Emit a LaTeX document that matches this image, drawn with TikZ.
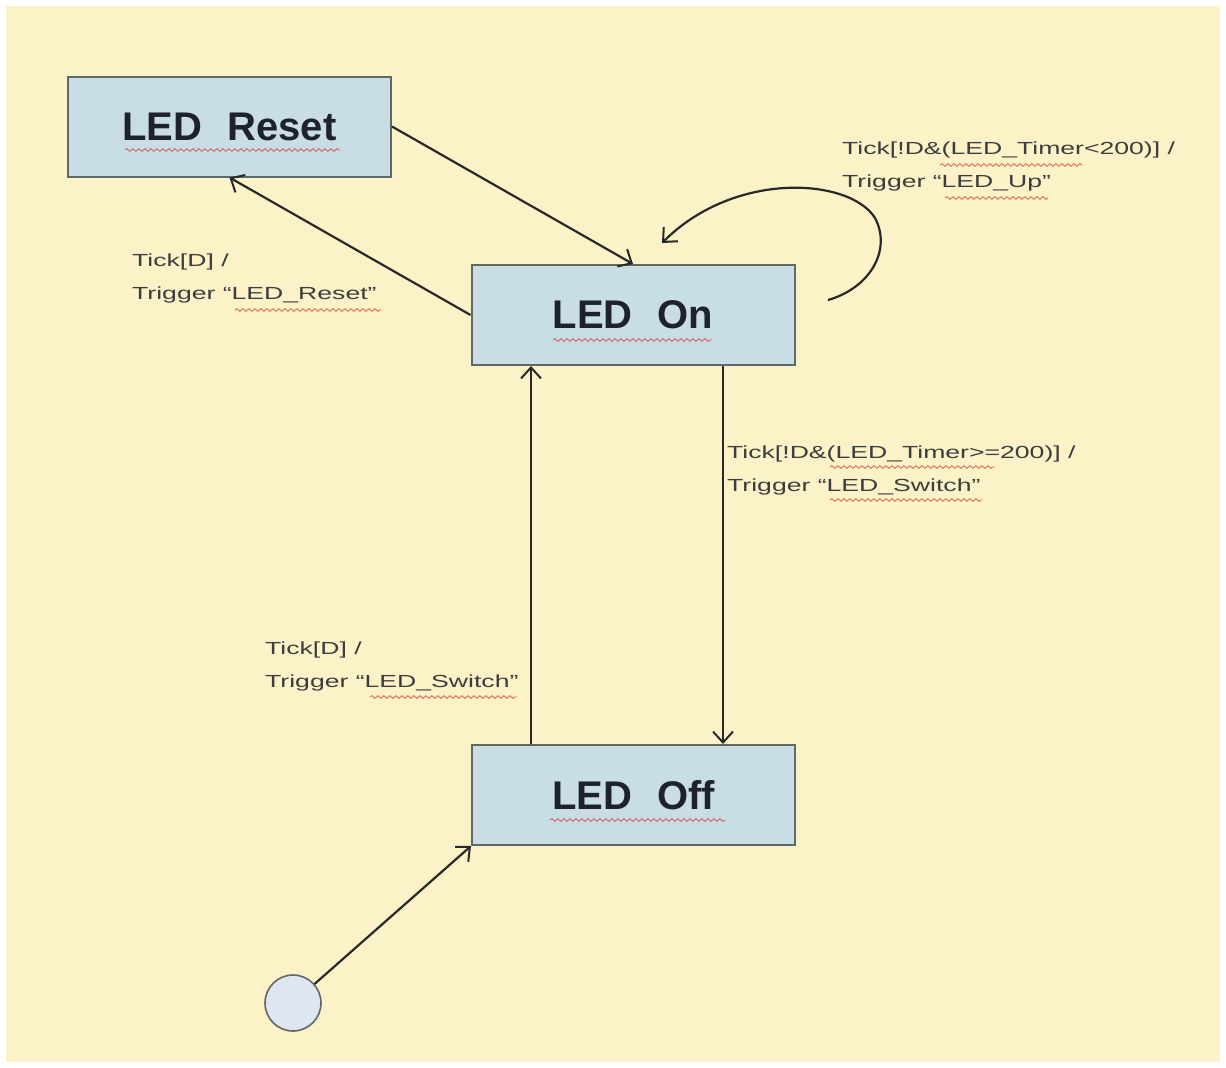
\documentclass[tikz,border=0pt]{standalone}
\usepackage{fontspec}
\setmainfont{Liberation Sans}
\newfontfamily\lblfont[FakeStretch=1.52]{Liberation Sans}
\usetikzlibrary{arrows.meta,decorations.pathmorphing}
\definecolor{bgyellow}{RGB}{251,242,200}
\definecolor{boxfill}{RGB}{201,221,229}
\definecolor{boxline}{RGB}{92,106,106}
\definecolor{ink}{RGB}{40,40,40}
\definecolor{txt}{RGB}{30,34,44}
\definecolor{initfill}{RGB}{222,230,242}
\definecolor{squigred}{RGB}{215,60,60}
\tikzset{
  statebox/.style={draw=boxline, line width=2pt, fill=boxfill, rectangle,
    minimum width=323pt, minimum height=100pt, inner sep=0pt,
    text=txt, font=\bfseries\fontsize{40}{48}\selectfont},
  initstate/.style={circle, draw=gray!80!black, line width=1.6pt, fill=initfill,
    minimum size=56pt, inner sep=0pt},
  conn/.style={draw=ink, line width=2.2pt, -{Straight Barb[length=11pt,width=20pt,line width=2pt]}},
  trlabel/.style={anchor=base west, inner sep=0pt, align=left, text=ink!90,
    font=\lblfont\fontsize{17.5}{33}\selectfont},
  squig/.style={decorate, decoration={snake, amplitude=1.4pt, segment length=6pt},
    draw=squigred, line width=0.9pt, opacity=0.75}
}
\begin{document}
\begin{tikzpicture}[x=1pt,y=-1pt]
\useasboundingbox (0,0) rectangle (1226,1068);
\fill[white] (0,0) rectangle (1226,1068);
\fill[bgyellow] (6,6) rectangle (1220,1062);

% states
\node[statebox] (reset) at (229.5,126.5) {LED\hspace{25pt}Reset};
\node[statebox] (on)    at (633,315)     {LED\hspace{25pt}On};
\node[statebox] (off)   at (633.5,795)   {LED\hspace{25pt}Off};
\node[initstate] (init) at (293,1003) {};

% helper coordinates
\coordinate (xa) at (723,0);
\coordinate (xb) at (531,0);
\coordinate (ls) at (828,300);
\coordinate (le) at (662,243);

% connectors
\draw[conn] (reset.east) -- (on.north);
\draw[conn] (on.west) -- (reset.south);
\draw[conn] (on.south -| xa) -- (off.north -| xa);
\draw[conn] (off.north -| xb) -- (on.south -| xb);
\draw[conn] (init) -- (off.south west);
\draw[conn] (ls) .. controls (870,288) and (892,250) .. (875,218)
                 .. controls (850,178) and (735,170) .. (le);

% transition labels (anchor = baseline of the last line)
\node[trlabel] (l1) at (842,187) {Tick[!D\&(LED\_Timer<200)] /\\Trigger “LED\_Up”};
\node[trlabel] (l2) at (132,299) {Tick[D] /\\Trigger “LED\_Reset”};
\node[trlabel] (l3) at (727,491) {Tick[!D\&(LED\_Timer>=200)] /\\Trigger “LED\_Switch”};
\node[trlabel] (l4) at (265,687) {Tick[D] /\\Trigger “LED\_Switch”};

% spell-check squiggles
\draw[squig] (125,150) -- (340,150);
\draw[squig] (553,340) -- (712,340);
\draw[squig] (550,820) -- (725,820);
\draw[squig] (940,165) -- (1082,165);
\draw[squig] (945,198) -- (1048,198);
\draw[squig] (235,310) -- (382,310);
\draw[squig] (830,467) -- (995,467);
\draw[squig] (830,500) -- (982,500);
\draw[squig] (370,697) -- (517,697);
\end{tikzpicture}
\end{document}
